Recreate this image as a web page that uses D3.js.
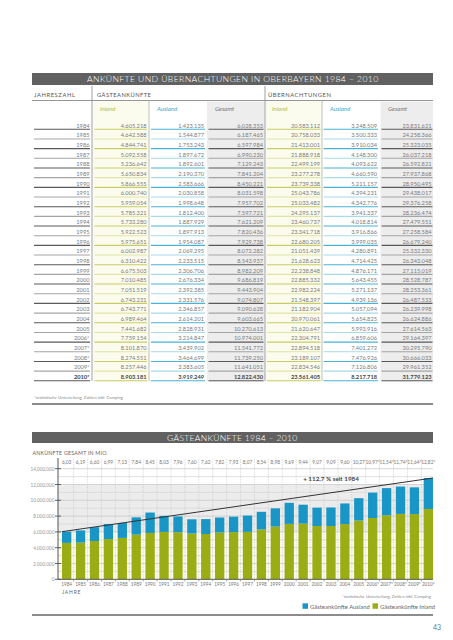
<!DOCTYPE html>
<html><head><meta charset="utf-8">
<script src="https://cdn.jsdelivr.net/npm/d3@7"></script>
<style>
body{margin:0;background:#fff}
svg{display:block}
text{font-family:Lato,"Open Sans",sans-serif}
</style>
</head><body>
<svg id="c" width="453" height="640"></svg>
<script>
const years = [1984,1985,1986,1987,1988,1989,1990,1991,1992,1993,1994,1995,1996,1997,1998,1999,2000,2001,2002,2003,2004,2005,2006,2007,2008,2009,2010];
const yearLabels = ["1984","1985","1986","1987","1988","1989","1990","1991","1992","1993","1994","1995","1996","1997","1998","1999","2000","2001","2002","2003","2004","2005","2006*","2007*","2008*","2009*","2010*"];
const gaInland = [4605218,4642588,4844741,5092558,5236642,5650834,5866555,6000740,5959054,5785321,5733280,5922523,5975651,6002987,6310422,6675503,7010485,7051519,6743231,6743771,6989464,7441682,7759154,8101870,8274551,8257446,8903181];
const gaAusland = [1423135,1544877,1753243,1897672,1892601,2190370,2583666,2030858,1998648,1812400,1887929,1897913,1954087,2069295,2233515,2306706,2676334,2392385,2331576,2346857,2614201,2828931,3214847,3439902,3464699,3383605,3919249];
const gaGesamt = [6028353,6187465,6597984,6990230,7129243,7841204,8450221,8031598,7957702,7597721,7621209,7820436,7929738,8072282,8543937,8982209,9686819,9443904,9074807,9090628,9603665,10270613,10974001,11541772,11739250,11641051,12822430];
const uebInland = [20583112,20758033,21413001,21888918,22499199,23277278,23739338,25043786,25033482,24295137,23460737,23341718,22680205,21051439,21628623,22238848,22885332,22982224,21548397,21182904,20970061,21620647,22304791,22894518,23189107,22834546,23561405];
const uebAusland = [3248509,3500333,3910034,4148300,4093622,4660590,5211157,4394231,4342776,3941337,4018814,3916866,3999035,4280891,4714425,4876171,5643455,5271137,4939136,5057094,5654825,5993916,6859606,7401272,7476926,7126806,8217718];
const uebGesamt = [23831621,24258366,25323035,26037218,26592821,27937868,28950495,29438017,29376258,28236474,27479551,27258584,26679240,25332330,26343048,27115019,28528787,28253361,26487533,26239998,26624886,27614563,29164397,30295790,30666033,29961352,31779123];
const topLabels = ["6,03","6,19","6,60","6,99","7,13","7,84","8,45","8,03","7,96","7,60","7,62","7,82","7,93","8,07","8,54","8,98","9,69","9,44","9,07","9,09","9,60","10,27","10,97*","11,54*","11,74*","11,64*","12,82*"];
const yTicks = [0,2000000,4000000,6000000,8000000,10000000,12000000,14000000];
const yTickLabels = ["0","2.000.000","4.000.000","6.000.000","8.000.000","10.000.000","12.000.000","14.000.000"];

const svg = d3.select("#c");
const de = d3.formatLocale({decimal:",",thousands:".",grouping:[3],currency:["","€"]});
const fmt = de.format(",d");

const GREEN = "#9bad14", BLUE = "#1a96c6", BAR = "#616161";

// ---------- TABLE ----------
svg.append("rect").attr("x",32).attr("y",73).attr("width",401).attr("height",12).attr("fill",BAR);
svg.append("text").attr("x",233.5).attr("y",79.2).attr("text-anchor","middle").attr("dominant-baseline","central")
  .attr("fill","#fff").attr("font-size",8.6).attr("font-weight",300).attr("letter-spacing",1.8)
  .attr("textLength",293).attr("lengthAdjust","spacing")
  .text("ANKÜNFTE UND ÜBERNACHTUNGEN IN OBERBAYERN 1984 – 2010");

const rowY = d3.scalePoint().domain(years).range([125, 376.5]);

// column backgrounds
svg.append("rect").attr("x",93).attr("y",101.5).attr("width",56).attr("height",280).attr("fill","#fcfcee");
svg.append("rect").attr("x",266).attr("y",101.5).attr("width",56).attr("height",280).attr("fill","#fcfcee");
svg.append("rect").attr("x",207).attr("y",101.5).attr("width",57.5).attr("height",280).attr("fill","#ededed");
svg.append("rect").attr("x",380.5).attr("y",101.5).attr("width",52.5).attr("height",280).attr("fill","#ededed");

// header
const hdr = [["JAHRESZAHL",34,42],["GÄSTEANKÜNFTE",97,55],["ÜBERNACHTUNGEN",268,64]];
hdr.forEach(h=>svg.append("text").attr("x",h[1]).attr("y",94).attr("dominant-baseline","central")
  .attr("font-size",5.8).attr("letter-spacing",1.1).attr("fill","#555")
  .attr("textLength",h[2]).attr("lengthAdjust","spacing").text(h[0]));
svg.append("line").attr("x1",32).attr("x2",433).attr("y1",100.5).attr("y2",100.5).attr("stroke","#8a8a8a").attr("stroke-width",0.9);

const sub = [["Inland",100,"#b5bd3a"],["Ausland",157,"#3aa8cf"],["Gesamt",215,"#777"],["Inland",272,"#b5bd3a"],["Ausland",330,"#3aa8cf"],["Gesamt",388,"#777"]];
sub.forEach(s=>svg.append("text").attr("x",s[1]).attr("y",108.5).attr("dominant-baseline","central")
  .attr("font-size",6).attr("font-style","italic").attr("fill",s[2]).text(s[0]));

// vertical separators
[[92,86,381,"#888"],[265,86,381,"#888"],[149,101,381,"#b0b0b0"],[322,101,381,"#b0b0b0"]].forEach(v=>
  svg.append("line").attr("x1",v[0]).attr("x2",v[0]).attr("y1",v[1]).attr("y2",v[2]).attr("stroke",v[3]).attr("stroke-width",0.8));

const cols = [
  {vals:yearLabels, right:89.5, x0:34, x1:90, c:["#5a5a5a","#a5a5a5"], raw:true},
  {vals:gaInland, right:146.5, x0:94.5, x1:147, c:["#c6cd66","#e0e4a6"]},
  {vals:gaAusland, right:204, x0:151, x1:205, c:["#48b2d7","#a6d9eb"]},
  {vals:gaGesamt, right:263, x0:208.5, x1:263.5, c:["#5a5a5a","#a5a5a5"]},
  {vals:uebInland, right:320, x0:267, x1:320.5, c:["#c6cd66","#e0e4a6"]},
  {vals:uebAusland, right:377, x0:323.5, x1:378, c:["#48b2d7","#a6d9eb"]},
  {vals:uebGesamt, right:431.5, x0:381.5, x1:432.5, c:["#5a5a5a","#a5a5a5"]}
];
cols.forEach(col=>{
  const g = svg.append("g");
  g.selectAll("line").data(years).join("line")
    .attr("x1",col.x0).attr("x2",col.x1)
    .attr("y1",d=>rowY(d)+4.3).attr("y2",d=>rowY(d)+4.3)
    .attr("stroke",(d,i)=>col.c[i%2]).attr("stroke-width",1.1);
  g.selectAll("text").data(years).join("text")
    .attr("x",col.right).attr("y",d=>rowY(d)).attr("text-anchor","end").attr("dominant-baseline","central")
    .attr("font-size",5.7).attr("fill",(d,i)=>i===26?"#444":"#7a7a7a")
    .attr("font-weight",(d,i)=>i===26?"bold":"normal")
    .text((d,i)=>col.raw?col.vals[i]:fmt(col.vals[i]));
});

svg.append("text").attr("x",34).attr("y",397.5).attr("dominant-baseline","central")
  .attr("font-size",4.3).attr("fill","#888").text("*statistische Unterteilung, Zahlen inkl. Camping");
svg.append("line").attr("x1",32).attr("x2",433).attr("y1",404).attr("y2",404).attr("stroke","#666").attr("stroke-width",1.5);

// ---------- CHART ----------
svg.append("rect").attr("x",32).attr("y",432).attr("width",401).attr("height",11).attr("fill",BAR);
svg.append("text").attr("x",233).attr("y",437.7).attr("text-anchor","middle").attr("dominant-baseline","central")
  .attr("fill","#fff").attr("font-size",8.6).attr("font-weight",300).attr("letter-spacing",1.8)
  .attr("textLength",132).attr("lengthAdjust","spacing").text("GÄSTEANKÜNFTE 1984 – 2010");

svg.append("text").attr("x",32.5).attr("y",453).attr("dominant-baseline","central")
  .attr("font-size",5.3).attr("fill","#666").attr("letter-spacing",0.2).text("ANKÜNFTE   GESAMT IN MIO.");

const x = d3.scaleBand().domain(years).range([58,434]).paddingInner(0.33).paddingOuter(0.18).align(0.8);
const y = d3.scaleLinear().domain([0,14000000]).range([579.3,468.7]);
const L = 58, R = 433;
const bw = x.bandwidth(), step = x.step();

svg.append("rect").attr("x",L).attr("y",y(6000000)).attr("width",R-L).attr("height",y(0)-y(6000000)).attr("fill","#fcfcef");
svg.append("rect").attr("x",L).attr("y",y(12000000)).attr("width",R-L).attr("height",y(6000000)-y(12000000)).attr("fill","#ececec");

// horizontal grid
svg.append("g").selectAll("line").data(d3.range(1000000,14000001,1000000)).join("line")
  .attr("x1",L).attr("x2",R).attr("y1",d=>y(d)).attr("y2",d=>y(d))
  .attr("stroke",d=>d%2000000===0?"#c4c4c4":"#d6d6d6").attr("stroke-width",0.7);

// vertical grid (band boundaries)
const bounds = years.slice(1).map(d=>x(d)-step*0.33/2);
svg.append("g").selectAll("line").data(bounds).join("line")
  .attr("x1",d=>d).attr("x2",d=>d).attr("y1",459).attr("y2",579.3)
  .attr("stroke","#c8c8c8").attr("stroke-width",0.6).attr("stroke-dasharray","1.5,1");

// bars
svg.append("g").selectAll("rect").data(years).join("rect")
  .attr("x",d=>x(d)).attr("width",bw)
  .attr("y",(d,i)=>y(gaInland[i])).attr("height",(d,i)=>y(0)-y(gaInland[i])).attr("fill",GREEN);
svg.append("g").selectAll("rect").data(years).join("rect")
  .attr("x",d=>x(d)).attr("width",bw)
  .attr("y",(d,i)=>y(gaInland[i]+gaAusland[i])).attr("height",(d,i)=>y(gaInland[i])-y(gaInland[i]+gaAusland[i])).attr("fill",BLUE);

// trend line
svg.append("line").attr("x1",x(1984)).attr("y1",y(gaGesamt[0]))
  .attr("x2",x(2010)+bw).attr("y2",y(gaGesamt[26])).attr("stroke","#333").attr("stroke-width",1);

svg.append("text").attr("x",331).attr("y",478).attr("text-anchor","middle").attr("dominant-baseline","central")
  .attr("font-size",6.3).attr("font-weight","bold").attr("fill","#444").text("+ 112,7 % seit 1984");

// top labels
svg.append("g").selectAll("text").data(years).join("text")
  .attr("x",d=>x(d)+bw/2).attr("y",462).attr("text-anchor","middle").attr("dominant-baseline","central")
  .attr("font-size",4.8).attr("fill","#777").text((d,i)=>topLabels[i]);

// y axis
svg.append("line").attr("x1",L).attr("x2",L).attr("y1",458).attr("y2",579.3).attr("stroke","#555").attr("stroke-width",1);
const yt = svg.append("g");
yt.selectAll("line").data(yTicks).join("line")
  .attr("x1",55).attr("x2",61).attr("y1",d=>y(d)).attr("y2",d=>y(d)).attr("stroke","#555").attr("stroke-width",0.9);
yt.selectAll("text").data(yTicks).join("text")
  .attr("x",54.5).attr("y",d=>y(d)).attr("text-anchor","end").attr("dominant-baseline","central")
  .attr("font-size",4.7).attr("fill","#999").text((d,i)=>yTickLabels[i]);

// x axis
svg.append("line").attr("x1",L).attr("x2",R).attr("y1",579.3).attr("y2",579.3).attr("stroke","#555").attr("stroke-width",1);
svg.append("g").selectAll("line").data(bounds).join("line")
  .attr("x1",d=>d).attr("x2",d=>d).attr("y1",579.3).attr("y2",581.5).attr("stroke","#777").attr("stroke-width",0.6);
svg.append("g").selectAll("text").data(years).join("text")
  .attr("x",d=>x(d)+bw/2).attr("y",584.3).attr("text-anchor","middle").attr("dominant-baseline","central")
  .attr("font-size",4.7).attr("fill","#777").text((d,i)=>yearLabels[i]);
svg.append("text").attr("x",62).attr("y",591.5).attr("dominant-baseline","central")
  .attr("font-size",5).attr("letter-spacing",0.8).attr("fill","#666").text("JAHRE");

svg.append("text").attr("x",431).attr("y",596).attr("text-anchor","end").attr("dominant-baseline","central")
  .attr("font-size",4.3).attr("fill","#888").text("*statistische Unterteilung, Zahlen inkl. Camping");

// legend
svg.append("rect").attr("x",302.5).attr("y",603.3).attr("width",5.5).attr("height",5.5).attr("fill",BLUE);
svg.append("text").attr("x",310).attr("y",606.2).attr("dominant-baseline","central").attr("font-size",5.9).attr("fill","#666").text("Gästeankünfte Ausland");
svg.append("rect").attr("x",372.5).attr("y",603.3).attr("width",5.5).attr("height",5.5).attr("fill",GREEN);
svg.append("text").attr("x",380).attr("y",606.2).attr("dominant-baseline","central").attr("font-size",5.9).attr("fill","#666").text("Gästeankünfte Inland");

svg.append("line").attr("x1",32).attr("x2",433).attr("y1",615).attr("y2",615).attr("stroke","#666").attr("stroke-width",1.5);

svg.append("text").attr("x",437).attr("y",627).attr("text-anchor","middle").attr("dominant-baseline","central")
  .attr("font-size",7).attr("fill","#5a7d98").text("43");
</script>
</body></html>
